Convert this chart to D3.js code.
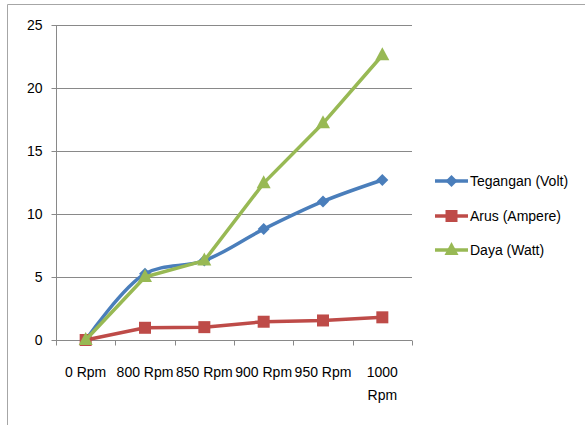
<!DOCTYPE html>
<html><head><meta charset="utf-8">
<script src="https://cdn.jsdelivr.net/npm/d3@7"></script>
<style>body{margin:0;background:#fff}svg{display:block}</style>
</head><body>
<svg id="c" width="585" height="425"></svg>
<script>
const categories = ["0 Rpm", "800 Rpm", "850 Rpm", "900 Rpm", "950 Rpm", "1000 Rpm"];
const tegangan = [0, 5.25, 6.3, 8.8, 11.0, 12.7];
const arus = [0, 0.97, 1.02, 1.45, 1.55, 1.8];
const daya = [0, 5.0, 6.3, 12.45, 17.2, 22.6];
const yTicks = [0, 5, 10, 15, 20, 25];
const seriesNames = ["Tegangan (Volt)", "Arus (Ampere)", "Daya (Watt)"];

const svg = d3.select("#c");
const font = "'Liberation Sans', Arial, sans-serif";
const fs = 14;
const L = 56, R = 412, T = 25, B = 340;
const x = d3.scaleBand().domain(categories).range([L, R]);
const y = d3.scaleLinear().domain([0, 25]).range([B, T]);

// outer frame (top and left)
svg.append("line").attr("x1", 7.5).attr("x2", 585).attr("y1", 4.5).attr("y2", 4.5).attr("stroke", "#a6a6a6");
svg.append("line").attr("x1", 7.5).attr("x2", 7.5).attr("y1", 4.5).attr("y2", 425).attr("stroke", "#a6a6a6");

// gridlines
svg.append("g").selectAll("line").data(yTicks.filter(d => d > 0)).join("line")
  .attr("x1", L).attr("x2", R).attr("y1", d => Math.round(y(d)) + 0.5).attr("y2", d => Math.round(y(d)) + 0.5)
  .attr("stroke", "#898989").attr("stroke-width", 1);

// y axis
const ya = svg.append("g").attr("transform", `translate(${L + 0.5},0)`)
  .call(d3.axisLeft(y).tickValues(yTicks).tickSize(5).tickPadding(9));
ya.select(".domain").attr("stroke", "#898989").attr("d", `M0,${B}V${T}`);
ya.selectAll(".tick line").attr("stroke", "#898989");
ya.selectAll(".tick text").attr("font-family", font).attr("font-size", fs).attr("fill", "#000");

// x axis
const xa = svg.append("g").attr("transform", `translate(0,${B + 0.5})`)
  .call(d3.axisBottom(x).tickSize(0).tickPadding(0));
xa.select(".domain").attr("stroke", "#898989").attr("d", `M${L},0H${R}`);
xa.selectAll(".tick text").remove();
xa.selectAll(".tick line").remove();
const bounds = categories.map(c => x(c)).concat([R]);
xa.selectAll("line.tk").data(bounds).join("line").attr("class", "tk")
  .attr("x1", d => Math.round(d) + 0.5).attr("x2", d => Math.round(d) + 0.5).attr("y1", 0).attr("y2", 5)
  .attr("stroke", "#898989");
const labels = svg.append("g");
categories.forEach(c => {
  const parts = c === "1000 Rpm" ? ["1000", "Rpm"] : [c];
  const t = labels.append("text").attr("x", x(c) + x.bandwidth() / 2).attr("y", 377)
    .attr("text-anchor", "middle").attr("font-family", font).attr("font-size", fs).attr("fill", "#000");
  parts.forEach((p, i) => t.append("tspan").attr("x", x(c) + x.bandwidth() / 2).attr("dy", i ? 23 : 0).text(p));
});

const cx = (d, i) => x(categories[i]) + x.bandwidth() / 2;
const colors = ["#4a7ebb", "#be4b48", "#98b954"];
const data = [tegangan, arus, daya];
const curves = [d3.curveCatmullRom.alpha(0.5), d3.curveLinear, d3.curveLinear];

function marker(g, type, px, py, col) {
  if (type === 0) {
    g.append("path").attr("d", `M${px},${py - 6}L${px + 6},${py}L${px},${py + 6}L${px - 6},${py}Z`).attr("fill", col);
  } else if (type === 1) {
    g.append("rect").attr("x", px - 6).attr("y", py - 6).attr("width", 12).attr("height", 12).attr("fill", col);
  } else {
    g.append("path").attr("d", `M${px},${py - 8}L${px + 7},${py + 5}L${px - 7},${py + 5}Z`).attr("fill", col);
  }
}

data.forEach((vals, s) => {
  const g = svg.append("g");
  g.append("path").datum(vals)
    .attr("d", d3.line().x(cx).y(d => y(d)).curve(curves[s]))
    .attr("fill", "none").attr("stroke", colors[s]).attr("stroke-width", 3.5).attr("stroke-linejoin", "round");
  vals.forEach((v, i) => marker(g, s, cx(v, i), y(v), colors[s]));
});

// legend
const legY = [181, 216, 250];
seriesNames.forEach((n, i) => {
  const g = svg.append("g");
  g.append("line").attr("x1", 435).attr("x2", 468).attr("y1", legY[i]).attr("y2", legY[i])
    .attr("stroke", colors[i]).attr("stroke-width", 3.5);
  marker(g, i, 451.5, legY[i], colors[i]);
  g.append("text").attr("x", 470).attr("y", legY[i] + 5).attr("font-family", font).attr("font-size", fs)
    .attr("fill", "#000").text(n);
});
</script>
</body></html>
